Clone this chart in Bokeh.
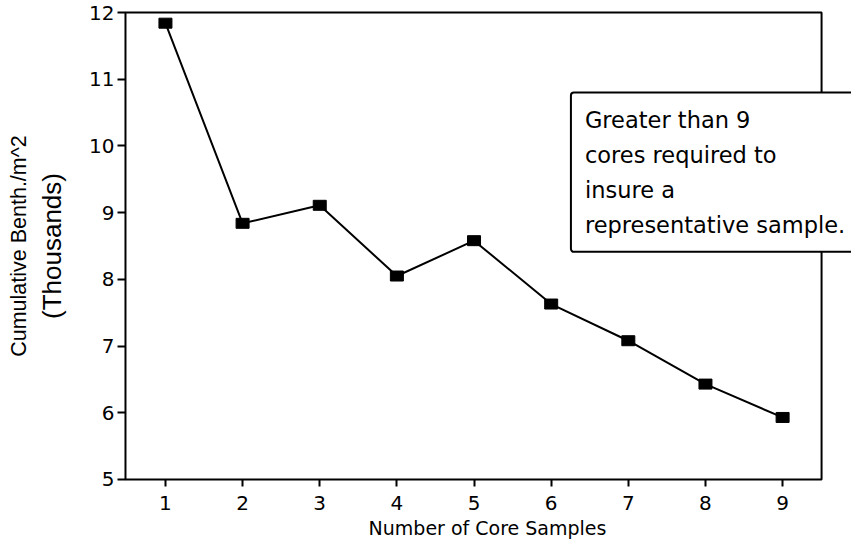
from bokeh.plotting import figure
from bokeh.models import Range1d, FixedTicker, Label, Title
from bokeh.embed import file_html
from bokeh.resources import INLINE

# data
cores = [1, 2, 3, 4, 5, 6, 7, 8, 9]
benthos = [11.84, 8.84, 9.11, 8.05, 8.58, 7.63, 7.08, 6.43, 5.93]
x_ticks = [1, 2, 3, 4, 5, 6, 7, 8, 9]
y_ticks = [5, 6, 7, 8, 9, 10, 11, 12]
note = "Greater than 9\ncores required to\ninsure a\nrepresentative sample."

# axis limits of the drawn plot box
X_MIN, X_MAX = 0.482, 9.505
Y_MIN, Y_MAX = 5, 12

FONT = "DejaVu Sans"
FONT2 = "Liberation Sans"

p = figure(width=851, height=541, output_backend="svg", toolbar_location=None,
           x_range=Range1d(0.4563, 9.893), y_range=Range1d(4.970, 12.030),
           min_border_left=122, min_border_right=0, min_border_top=10, min_border_bottom=59)
p.background_fill_color = "white"
p.border_fill_color = "white"
p.outline_line_color = None
p.xgrid.visible = False
p.ygrid.visible = False

# plot box
p.quad(left=[X_MIN], right=[X_MAX], bottom=[Y_MIN], top=[Y_MAX],
       fill_color=None, line_color="black", line_width=2)

p.line(cores, benthos, line_color="black", line_width=2)
p.rect(cores, benthos, width=13, height=10, width_units="screen", height_units="screen",
       fill_color="black", line_color="black")

for ax in (p.xaxis[0], p.yaxis[0]):
    ax.axis_line_color = None
    ax.major_tick_line_color = "black"
    ax.major_tick_line_width = 2
    ax.major_tick_in = 2
    ax.minor_tick_line_color = None
    ax.major_label_text_font = FONT
    ax.major_label_text_font_size = "20px"
    ax.major_label_text_color = "black"
    ax.axis_label_text_font_style = "normal"
    ax.axis_label_text_color = "black"

p.xaxis.ticker = FixedTicker(ticks=x_ticks)
p.yaxis.ticker = FixedTicker(ticks=y_ticks)
p.xaxis.major_tick_out = 5
p.xaxis.major_label_standoff = 9
p.yaxis.major_tick_out = 6
p.yaxis.major_label_standoff = 3

p.xaxis.axis_label = "Number of Core Samples"
p.xaxis.axis_label_text_font = FONT
p.xaxis.axis_label_text_font_size = "19px"
p.xaxis.axis_label_standoff = 4

p.yaxis.axis_label = "(Thousands)"
p.yaxis.axis_label_text_font = FONT2
p.yaxis.axis_label_text_font_size = "26px"
p.yaxis.axis_label_standoff = 19

t = Title(text="Cumulative Benth./m^2", align="center", text_font=FONT2,
          text_font_size="21.5px", text_font_style="normal", text_color="black",
          standoff=8)
p.add_layout(t, "left")

lab = Label(x=6.256, y=10.80, text=note, text_align="left", text_baseline="top",
            text_font=FONT, text_font_size="22.5px", text_color="black",
            text_line_height=1.35,
            background_fill_color="white", border_line_color="black",
            border_line_width=2, border_radius=3, padding=14)
p.add_layout(lab)

open("out.html", "w").write(file_html(p, INLINE))
